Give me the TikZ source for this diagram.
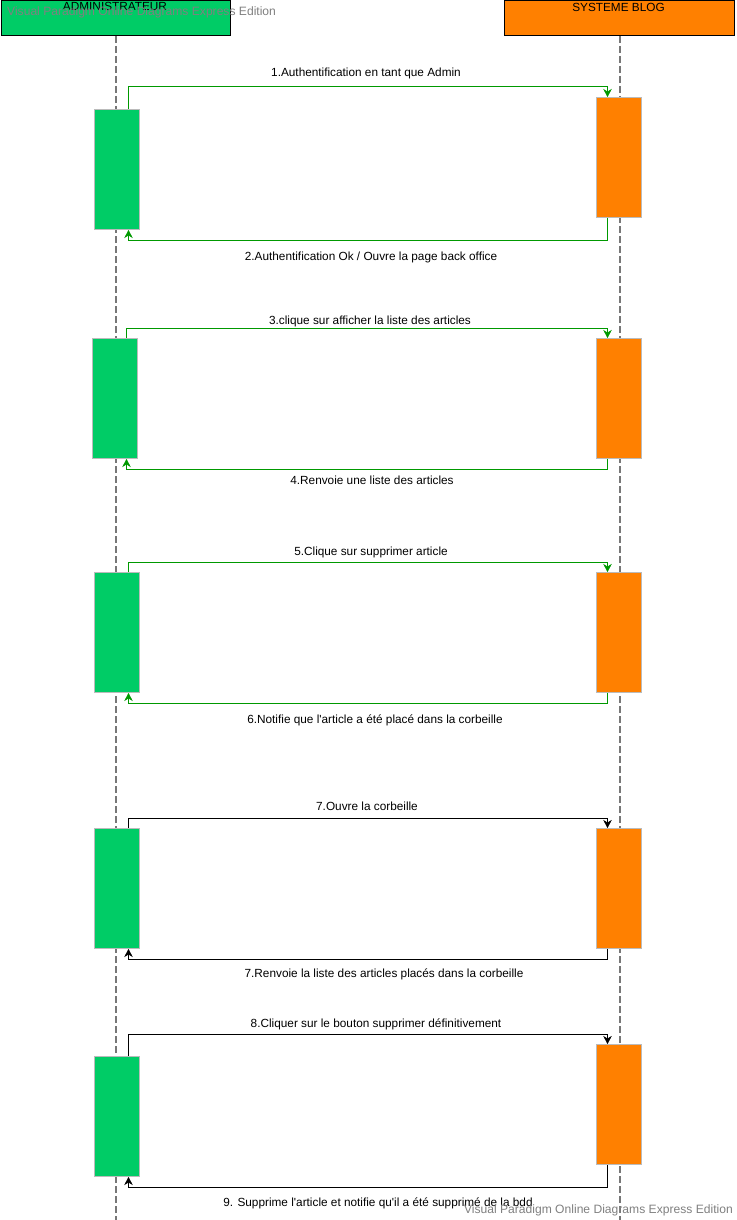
\documentclass[tikz,border=0pt]{standalone}
\usepackage{fontspec}
\setmainfont{Liberation Sans}
\usetikzlibrary{arrows.meta}
\definecolor{admgreen}{HTML}{00CC66}
\definecolor{blogorange}{HTML}{FF8000}
\definecolor{msggreen}{HTML}{009900}
\definecolor{actborder}{HTML}{BBBBBB}
\definecolor{lifegray}{HTML}{777777}
\definecolor{wmgray}{HTML}{808080}
\begin{document}
\begin{tikzpicture}[x=1pt,y=-1pt,
  header/.style={draw=black,line width=1pt,minimum height=34.5pt,inner sep=0pt,anchor=north west},
  act/.style={draw=actborder,line width=1pt,minimum width=45pt,minimum height=120pt,inner sep=0pt,anchor=north},
  actg/.style={act,fill=admgreen},
  acto/.style={act,fill=blogorange},
  lifeline/.style={draw=lifegray,line width=2pt,dash pattern=on 7pt off 3pt},
  msg/.style={line width=1pt,-{Stealth[length=8pt,width=8.5pt,inset=2.5pt,line width=0.5pt]}},
  msgg/.style={msg,draw=msggreen},
  msgk/.style={msg,draw=black},
  lbl/.style={font=\fontsize{11.8}{14}\selectfont,anchor=base,inner sep=0pt},
  wm/.style={font=\fontsize{12.1}{14}\selectfont,text=wmgray,inner sep=0pt}
]
\useasboundingbox (0,0) rectangle (736,1220);
\fill[white] (0,0) rectangle (736,1220);

% headers
\node[header,fill=admgreen,minimum width=229pt] (hadm) at (0.5,0.5) {};
\node[header,fill=blogorange,minimum width=230pt] (hblog) at (504,0.5) {};
\coordinate (lend) at (0,1220);

% lifelines
\draw[lifeline] (hadm.south) -- (hadm.south |- lend);
\draw[lifeline] (hblog.south) -- (hblog.south |- lend);

% activation boxes
\node[actg] (g1) at (116.5,109) {};
\node[acto] (o1) at (619,97) {};
\node[actg] (g2) at (115,338) {};
\node[acto] (o2) at (619,338) {};
\node[actg] (g3) at (116.5,572) {};
\node[acto] (o3) at (619,572) {};
\node[actg] (g4) at (116.5,828) {};
\node[acto] (o4) at (619,828) {};
\node[actg] (g5) at (116.5,1056) {};
\node[acto] (o5) at (619,1044) {};

% messages
\draw[msgg] ([xshift=12pt]g1.north) |- ([xshift=-11.5pt,yshift=10pt]o1.north) -- ([xshift=-11.5pt]o1.north);
\draw[msgg] ([xshift=-11.5pt]o1.south) |- ([xshift=12pt,yshift=-10pt]g1.south) -- ([xshift=12pt]g1.south);
\draw[msgg] ([xshift=11.5pt]g2.north) |- ([xshift=-11.5pt,yshift=10pt]o2.north) -- ([xshift=-11.5pt]o2.north);
\draw[msgg] ([xshift=-11.5pt]o2.south) |- ([xshift=11.5pt,yshift=-10pt]g2.south) -- ([xshift=11.5pt]g2.south);
\draw[msgg] ([xshift=12pt]g3.north) |- ([xshift=-11.5pt,yshift=10pt]o3.north) -- ([xshift=-11.5pt]o3.north);
\draw[msgg] ([xshift=-11.5pt]o3.south) |- ([xshift=12pt,yshift=-10pt]g3.south) -- ([xshift=12pt]g3.south);
\draw[msgk] ([xshift=12pt]g4.north) |- ([xshift=-11.5pt,yshift=10pt]o4.north) -- ([xshift=-11.5pt]o4.north);
\draw[msgk] ([xshift=-11.5pt]o4.south) |- ([xshift=12pt,yshift=-10pt]g4.south) -- ([xshift=12pt]g4.south);
\draw[msgk] ([xshift=12pt]g5.north) |- ([xshift=-11.5pt,yshift=10pt]o5.north) -- ([xshift=-11.5pt]o5.north);
\draw[msgk] ([xshift=-11.5pt]o5.south) |- ([xshift=12pt,yshift=-10pt]g5.south) -- ([xshift=12pt]g5.south);

% labels
\node[lbl] (l1) at (366,77) {1.Authentification en tant que Admin};
\node[lbl] (l2) at (371,260) {2.Authentification Ok / Ouvre la page back office};
\node[lbl] (l3) at (370,324) {3.clique sur afficher la liste des articles};
\node[lbl] (l4) at (372,484) {4.Renvoie une liste des articles};
\node[lbl] (l5) at (371,555) {5.Clique sur supprimer article};
\node[lbl] (l6) at (375,723) {6.Notifie que l\textquotesingle article a été placé dans la corbeille};
\node[lbl] (l7) at (367,810) {7.Ouvre la corbeille};
\node[lbl] (l7b) at (384,977) {7.Renvoie la liste des articles placés dans la corbeille};
\node[lbl] (l8) at (376,1027) {8.Cliquer sur le bouton supprimer définitivement};
\node[lbl] (l9) at (378,1206) {9. Supprime l\textquotesingle article et notifie qu\textquotesingle il a été supprimé de la bdd};

% header texts
\node[lbl] (tadm) at (115,11) {ADMINISTRATEUR};
\node[lbl] (tblog) at (618.5,12) {SYSTEME BLOG};

% watermarks
\node[wm,anchor=base west] (wm1) at (7,16) {Visual Paradigm Online Diagrams Express Edition};
\node[wm,anchor=base east] (wm2) at (733,1213) {Visual Paradigm Online Diagrams Express Edition};
\end{tikzpicture}
\end{document}
